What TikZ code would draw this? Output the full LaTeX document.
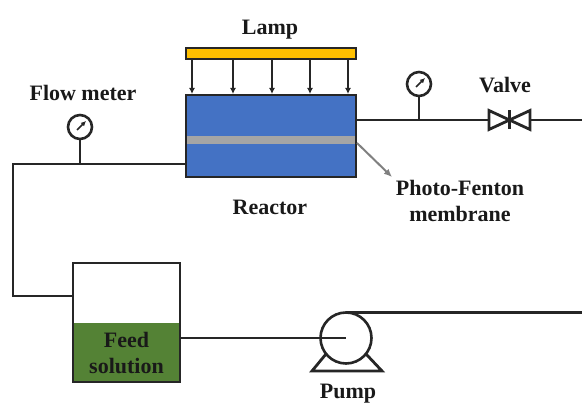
\documentclass[tikz,border=0pt]{standalone}
\usepackage{fontspec}
\setmainfont{Liberation Serif}
\usetikzlibrary{arrows.meta,calc}
\definecolor{lampc}{RGB}{255,192,0}
\definecolor{reactc}{RGB}{68,114,196}
\definecolor{membc}{RGB}{165,165,165}
\definecolor{feedc}{RGB}{84,130,53}
\definecolor{inkc}{RGB}{38,38,38}
\tikzset{
  pipe/.style={draw=inkc,line width=2.8pt},
  box/.style={draw=inkc,line width=2.8pt,inner sep=0pt,outer sep=0pt},
  lbl/.style={font=\bfseries\fontsize{22}{26}\selectfont,text=black!90,align=center,inner sep=0pt},
  ray/.style={draw=inkc,line width=1.5pt,-{Latex[length=6pt,width=6pt]}},
  gauge/.style={circle,draw=inkc,line width=2.6pt,minimum size=24pt,inner sep=0pt,outer sep=0pt,fill=white},
  needle/.style={draw=inkc,line width=1.5pt,-{Latex[length=5pt,width=5pt]}},
}
\begin{document}
\begin{tikzpicture}[x=1pt,y=-1pt]
\useasboundingbox (0,0) rectangle (582,403);
% Lamp
\node[box,fill=lampc,minimum width=170pt,minimum height=11pt,anchor=north west] (lamp) at (186,48) {};
% Reactor
\node[box,fill=reactc,minimum width=170pt,minimum height=82pt,anchor=north west] (reactor) at (186,95) {};
\fill[membc] (187.4,136) rectangle (354.6,144);
\coordinate (membEnd) at (357,143);
% Rays
\foreach \i/\x in {1/192,2/233,3/272,4/310,5/348}{
  \coordinate (ra\i) at (\x,60);
  \coordinate (rb\i) at (\x,94);
  \draw[ray] (ra\i) -- (rb\i);
}
% Labels
\node[lbl] (lampL) at (270,30) {Lamp};
\node[lbl] (flowL) at (83,93) {Flow meter};
\node[lbl] (valveL) at (505,85) {Valve};
\node[lbl] (reactorL) at (270,207) {Reactor};
\node[lbl] (membL) at (460,201) {Photo-Fenton\\membrane};
\node[lbl] (pumpL) at (348,393.5) {Pump};
% Membrane leader
\coordinate (membTip) at (392,177);
\draw[draw=gray,line width=2pt,-{Latex[length=8pt,width=7pt]}] (membEnd) -- (membTip);
% Tank
\fill[feedc] (73,323) rectangle (180,382);
\node[box,minimum width=107pt,minimum height=119pt,anchor=north west] (tank) at (73,263) {};
\node[lbl] (feedL) at (126.5,353.5) {Feed\\solution};
% Gauges
\node[gauge] (g1) at (80,127) {};
\node[gauge] (g2) at (419,84) {};
\draw[needle] ($(g1)+(-3,3)$) -- ($(g1)+(6,-6)$);
\draw[needle] ($(g2)+(-3,3)$) -- ($(g2)+(6,-6)$);
% Pipes: left
\coordinate (j1) at (80,164);
\coordinate (c1) at (13,164);
\coordinate (c2) at (13,296);
\draw[pipe,line join=miter] (186,164) -- (j1) -- (c1) -- (c2) -- (73,296);
\draw[pipe] (g1) ++(0,12) -- (j1);
% Pipes: right
\coordinate (j2) at (419,120);
\coordinate (vL) at (489,120);
\coordinate (vR) at (530,120);
\coordinate (vC) at (509.5,120);
\coordinate (endA) at (582,120);
\draw[pipe] (356,120) -- (j2) -- (vL);
\draw[pipe] (g2) ++(0,12) -- (j2);
\draw[pipe] (vR) -- (endA);
\draw[pipe,line join=miter] (vL) ++(0,-9.5) -- ++(0,19) -- (vC) -- cycle;
\draw[pipe,line join=miter] (vR) ++(0,-9.5) -- ++(0,19) -- (vC) -- cycle;
\draw[pipe] ($(vC)+(0,-9.5)$) -- ($(vC)+(0,9.5)$);
% Pump
\coordinate (pc) at (346,338);
\coordinate (baseL) at (312,371);
\coordinate (baseR) at (382,371);
\draw[pipe,line join=miter] ($(pc)+(-20,16)$) -- (baseL) -- (baseR) -- ($(pc)+(20,16)$);
\node[gauge,minimum size=51pt,fill=white] (pump) at (pc) {};
\coordinate (pumpTop) at (346,312.5);
\coordinate (endB) at (582,312.5);
\draw[pipe] (pumpTop) -- (endB);
\draw[pipe] (tank.east |- pc) -- (pc);
\end{tikzpicture}
\end{document}
